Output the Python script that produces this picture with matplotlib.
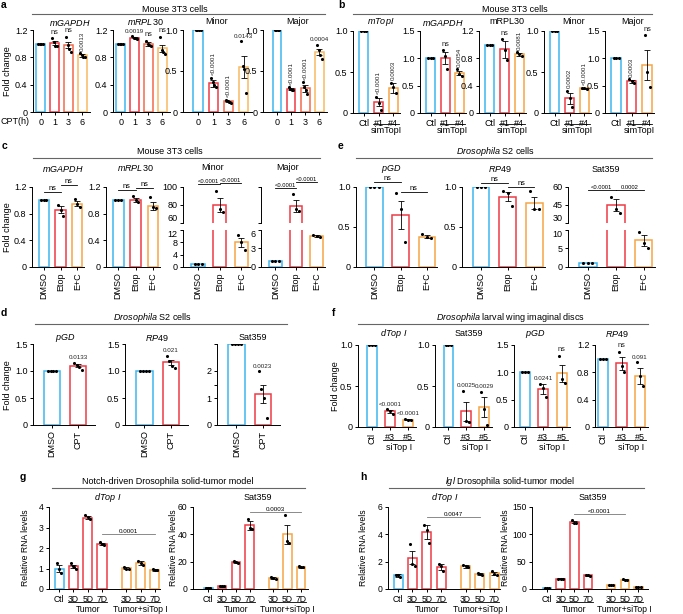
import numpy as np
import matplotlib
matplotlib.use('Agg')
import matplotlib.pyplot as plt
from matplotlib.lines import Line2D

plt.rcParams['font.family'] = ['Liberation Sans', 'DejaVu Sans']
plt.rcParams['mathtext.fontset'] = 'custom'
plt.rcParams['mathtext.it'] = 'Liberation Sans:italic'
plt.rcParams['mathtext.rm'] = 'Liberation Sans'
plt.rcParams['axes.linewidth'] = 0.7

BLUE = '#3cb6ee'
RED = '#ee3b45'
ORED = '#f26a4c'
ORANGE = '#f7a545'
LORANGE = '#f8bb62'

# ---------------- data ----------------
# a: Mouse 3T3, CPT time course
a_cats = ['0', '1', '3', '6']
a_gapdh = [1.0, 1.01, 0.98, 0.83]
a_gapdh_err = [0, 0.03, 0.05, 0.02]
a_gapdh_pts = [[1, 1, 1, 1], [1.08, 1.03, 0.97, 0.96], [1.10, 0.98, 0.92, 0.88], [0.86, 0.83, 0.81, 0.80]]
a_gapdh_ann = ['', 'ns', 'ns', '0.0013']
a_rpl30 = [1.0, 1.09, 1.0, 0.93]
a_rpl30_err = [0, 0.01, 0.03, 0.05]
a_rpl30_pts = [[1, 1, 1, 1], [1.11, 1.09, 1.08, 1.07], [1.04, 1.0, 0.98, 0.97], [1.10, 0.90, 0.88, 0.85]]
a_rpl30_ann = ['', '0.0019', 'ns', 'ns']
a_minor = [1.0, 0.35, 0.13, 0.55]
a_minor_err = [0, 0.04, 0.01, 0.13]
a_minor_pts = [[1, 1, 1, 1], [0.42, 0.37, 0.33, 0.30], [0.15, 0.14, 0.12, 0.11], [0.86, 0.56, 0.52, 0.23]]
a_minor_ann = ['', '<0.0001', '<0.0001', '0.0143']
a_major = [1.0, 0.28, 0.29, 0.73]
a_major_err = [0, 0.01, 0.04, 0.04]
a_major_pts = [[1, 1, 1, 1], [0.30, 0.28, 0.27, 0.27], [0.36, 0.30, 0.27, 0.22], [0.82, 0.76, 0.70, 0.65]]
a_major_ann = ['', '<0.0001', '<0.0001', '0.0004']

# b: Mouse 3T3, simTopI
b_cats = ['Ctl', '#1', '#4']
b_topi = [1.0, 0.13, 0.31]
b_topi_err = [0, 0.05, 0.06]
b_topi_pts = [[1, 1, 1], [0.20, 0.12, 0.04], [0.37, 0.32, 0.25]]
b_topi_ann = ['', '<0.0001', '0.0003']
b_gapdh = [1.0, 1.0, 0.73]
b_gapdh_err = [0, 0.11, 0.04]
b_gapdh_pts = [[1, 1, 1], [1.15, 1.05, 0.80], [0.80, 0.72, 0.68]]
b_gapdh_ann = ['', 'ns', '0.0054']
b_rpl30 = [1.0, 0.93, 0.86]
b_rpl30_err = [0, 0.12, 0.02]
b_rpl30_pts = [[1, 1, 1], [1.08, 0.92, 0.78], [0.89, 0.86, 0.83]]
b_rpl30_ann = ['', 'ns', '0.0081']
b_minor = [1.0, 0.18, 0.30]
b_minor_err = [0, 0.07, 0.01]
b_minor_pts = [[1, 1, 1], [0.27, 0.18, 0.07], [0.31, 0.30, 0.29]]
b_minor_ann = ['', '0.0002', '<0.0001']
b_major = [1.0, 0.58, 0.88]
b_major_err = [0, 0.03, 0.27]
b_major_pts = [[1, 1, 1], [0.62, 0.58, 0.55], [1.42, 0.75, 0.47]]
b_major_ann = ['', '0.0003', 'ns']

# c: Mouse 3T3, Etop
c_cats = ['DMSO', 'Etop', 'E+C']
c_gapdh = [1.0, 0.86, 0.95]
c_gapdh_err = [0, 0.05, 0.04]
c_gapdh_pts = [[1, 1, 1], [0.93, 0.85, 0.77], [1.02, 0.95, 0.90]]
c_rpl30 = [1.0, 1.0, 0.92]
c_rpl30_err = [0, 0.03, 0.06]
c_rpl30_pts = [[1, 1, 1], [1.06, 1.0, 0.97], [1.05, 0.90, 0.88]]
c_minor = [1.0, 80, 8]
c_minor_err = [0, 8, 1.5]
c_minor_pts = [[1, 1, 1], [95, 75, 72], [10.5, 8, 5.5]]
c_major = [1.0, 79, 5]
c_major_err = [0, 7, 0.2]
c_major_pts = [[1, 1, 1], [92, 76, 73], [5.2, 5.0, 4.9]]

# e: Drosophila S2, Etop
e_pgd = [1.0, 0.65, 0.38]
e_pgd_err = [0, 0.17, 0.02]
e_pgd_pts = [[1, 1, 1], [0.93, 0.72, 0.31], [0.41, 0.38, 0.36]]
e_rp49 = [1.0, 0.88, 0.80]
e_rp49_err = [0, 0.06, 0.08]
e_rp49_pts = [[1, 1, 1], [0.95, 0.93, 0.76], [0.95, 0.73, 0.73]]
e_sat = [1.0, 45, 7.2]
e_sat_err = [0, 5, 1.5]
e_sat_pts = [[1, 1, 1], [52, 42, 38], [9.5, 6.5, 5.0]]

# d: Drosophila S2, CPT
d_cats = ['DMSO', 'CPT']
d_pgd = [1.0, 1.10]
d_pgd_err = [0, 0.03]
d_pgd_pts = [[1, 1, 1, 1], [1.15, 1.12, 1.08, 1.02]]
d_rp49 = [1.0, 1.16]
d_rp49_err = [0, 0.05]
d_rp49_pts = [[1, 1, 1, 1], [1.28, 1.18, 1.10, 1.05]]
d_sat = [3.0, 1.15]
d_sat_err = [0, 0.35]
d_sat_pts = [[3, 3, 3, 3], [2.0, 1.35, 1.0, 0.27]]

# f: larval wing discs, siTop I
f_cats = ['Ctl', '#3', '#5']
f_topi = [1.0, 0.19, 0.09]
f_topi_err = [0, 0.02, 0.01]
f_topi_pts = [[1, 1, 1], [0.22, 0.19, 0.16], [0.10, 0.09, 0.09]]
f_topi_ann = ['', '<0.0001', '<0.0001']
f_sat = [1.0, 0.19, 0.24]
f_sat_err = [0, 0.12, 0.12]
f_sat_pts = [[1, 1, 1], [0.44, 0.07, 0.06], [0.43, 0.22, 0.03]]
f_sat_ann = ['', '0.0025', '0.0029']
f_pgd = [1.0, 0.69, 0.98]
f_pgd_err = [0, 0.09, 0.16]
f_pgd_pts = [[1, 1, 1], [0.79, 0.72, 0.55], [1.30, 0.88, 0.80]]
f_pgd_ann = ['', '0.0241', 'ns']
f_rp49 = [1.0, 0.93, 0.75]
f_rp49_err = [0, 0.10, 0.12]
f_rp49_pts = [[1, 1, 1], [1.10, 0.90, 0.80], [0.95, 0.75, 0.60]]
f_rp49_ann = ['', 'ns', '0.091']

# g / h: tumor models
t_cats = ['Ctl', '3D', '5D', '7D', '3D', '5D', '7D']
g_topi = [1.0, 1.1, 3.48, 2.2, 1.02, 1.25, 0.95]
g_topi_err = [0.18, 0.08, 0.08, 0.05, 0.04, 0.10, 0.05]
g_topi_pts = [[1.28, 1.0, 0.8], [1.25, 1.1, 1.05, 1.0], [3.6, 3.5, 3.4], [2.3, 2.2, 2.15],
              [1.08, 1.0, 0.98], [1.35, 1.25, 1.15], [1.0, 0.95, 0.92]]
g_sat = [1.0, 2.0, 19.5, 46.5, 8.0, 40.0, 16.0]
g_sat_err = [0.3, 0.2, 0.6, 3.0, 0.8, 7.0, 0.4]
g_sat_pts = [[1, 1, 1], [2, 2, 2], [20.5, 19.5, 19], [51, 45, 44],
             [9, 8, 7.5], [54, 35, 34], [16.5, 16, 15.8]]
h_topi = [1.0, 2.3, 4.15, 1.6, 1.65, 1.1, 1.15]
h_topi_err = [0.1, 0.5, 0.5, 0.2, 0.08, 0.05, 0.1]
h_topi_pts = [[1.05, 1.0, 0.9], [3.3, 1.8, 1.7], [4.7, 4.3, 3.4], [1.8, 1.7, 1.3],
              [1.75, 1.65, 1.6], [1.15, 1.1, 1.05], [1.3, 1.1, 1.0]]
h_sat = [1.0, 19, 122, 25, 7, 17, 4]
h_sat_err = [0.3, 0.5, 2, 0.5, 0.4, 0.8, 0.5]
h_sat_pts = [[1, 1, 1], [19, 19, 18.5], [126, 121, 120], [25, 25, 24.5],
             [7, 7, 6.5], [18, 17, 16], [4.5, 4, 3.5]]

# ---------------- helpers ----------------
W, H = 683, 614
fig = plt.figure(figsize=(W / 100, H / 100), dpi=100)


def px_ax(x0, y0, x1, y1):
    return fig.add_axes([x0 / W, 1 - y1 / H, (x1 - x0) / W, (y1 - y0) / H])


def ftxt(x, y, s, **kw):
    kw.setdefault('ha', 'center')
    kw.setdefault('va', 'center')
    kw.setdefault('fontsize', 6.5)
    fig.text(x / W, 1 - y / H, s, **kw)


def hline(x0, x1, y, color='#666666', lw=0.8):
    fig.add_artist(Line2D([x0 / W, x1 / W], [1 - y / H] * 2, color=color, lw=lw))


def make(rect, xs, vals, errs, pts, cols, ylim, yticks, ylabs, xlim, xlabels, rot=0, wid=0.62, fs=6.5):
    ax = px_ax(*rect)
    ax.bar(xs, vals, wid, color='white', edgecolor=cols, linewidth=1.1, zorder=1)
    for x, v, e, p in zip(xs, vals, errs, pts):
        if e > 0:
            ax.errorbar(x, v, yerr=e, fmt='none', ecolor='k', elinewidth=0.6,
                        capsize=2, capthick=0.6, zorder=2)
        off = np.linspace(-0.16, 0.16, len(p))
        ax.scatter(np.array(x) + off, p, s=5, color='k', zorder=3, linewidths=0)
    ax.set_ylim(*ylim)
    ax.set_yticks(yticks)
    ax.set_yticklabels(ylabs)
    ax.set_xlim(*xlim)
    ax.set_xticks(xs)
    ax.set_xticklabels(xlabels, rotation=rot)
    for s in ['top', 'right']:
        ax.spines[s].set_visible(False)
    ax.tick_params(length=2.5, width=0.7, pad=1.5, labelsize=fs)
    return ax


def notes(ax, xs, vals, errs, pts, texts, rots):
    lo, hi = ax.get_ylim()
    pad = (hi - lo) * 0.03
    for x, v, e, p, t, r in zip(xs, vals, errs, pts, texts, rots):
        if not t:
            continue
        top = max(v + e, max(p)) + pad
        ax.text(x, top, t, rotation=r, ha='center', va='bottom', clip_on=False,
                fontsize=5.3 if t == 'ns' else 4.5, color='#222222')


def bracket(ax, x1, x2, y, t, color='k', fs=4.5):
    ax.plot([x1, x2], [y, y], color=color, lw=0.6, clip_on=False)
    ax.text((x1 + x2) / 2, y, t, ha='center', va='bottom', clip_on=False,
            fontsize=5.3 if t == 'ns' else fs)


def group(ax, x1, x2, t, yline, ytext, ext=0.35, fs=6.5):
    tr = ax.get_xaxis_transform()
    ax.plot([x1 - ext, x2 + ext], [yline, yline], transform=tr, color='k', lw=0.6, clip_on=False)
    ax.text((x1 + x2) / 2, ytext, t, transform=tr, ha='center', va='top', fontsize=fs)


def lab(v, d=1):
    return '0' if v == 0 else f'{v:.{d}f}'


# ---------------- panel a ----------------
xa = np.arange(4)
ca = [BLUE, RED, ORED, LORANGE]
tk12 = [0, 0.4, 0.8, 1.2]
tk10 = [0, 0.5, 1.0]
tk15 = [0, 0.5, 1.0, 1.5]
ax = make((33, 30, 90, 112), xa, a_gapdh, a_gapdh_err, a_gapdh_pts, ca, (0, 1.2), tk12,
          [lab(v) for v in tk12], (-0.55, 3.55), a_cats)
notes(ax, xa, a_gapdh, a_gapdh_err, a_gapdh_pts, a_gapdh_ann, [0, 0, 0, 90])
ax = make((113, 30, 170, 112), xa, a_rpl30, a_rpl30_err, a_rpl30_pts, ca, (0, 1.2), tk12,
          [lab(v) for v in tk12], (-0.55, 3.55), a_cats)
notes(ax, xa, a_rpl30, a_rpl30_err, a_rpl30_pts, a_rpl30_ann, [0, 0, 0, 0])
ax = make((183, 30, 252, 112), xa, a_minor, a_minor_err, a_minor_pts, ca, (0, 1.0), tk10,
          [lab(v) for v in tk10], (-1.0, 3.55), a_cats)
notes(ax, xa, a_minor, a_minor_err, a_minor_pts, a_minor_ann, [0, 90, 90, 0])
ax = make((263, 30, 327, 112), xa, a_major, a_major_err, a_major_pts, ca, (0, 1.0), tk10,
          [lab(v) for v in tk10], (-1.0, 3.55), a_cats)
notes(ax, xa, a_major, a_major_err, a_major_pts, a_major_ann, [0, 90, 90, 0])
ftxt(15, 121, 'CPT(h)')
ftxt(8, 71, 'Fold change', rotation=90)
ftxt(175, 9, 'Mouse 3T3 cells')
hline(32, 325, 14)
for x, s in [(70, '$\\mathit{mGAPDH}$'), (145, '$\\mathit{mRPL30}$'), (217, 'Minor'), (298, 'Major')]:
    ftxt(x, 22, s)
ftxt(4, 5, 'a', fontweight='bold', fontsize=7.5)

# ---------------- panel b ----------------
xb = np.arange(3)
cb = [BLUE, RED, ORANGE]
b_set = [
    ((353, 31, 400, 113), b_topi, b_topi_err, b_topi_pts, b_topi_ann, [0, 90, 90], (0, 1.0), tk10),
    ((420, 31, 466, 113), b_gapdh, b_gapdh_err, b_gapdh_pts, b_gapdh_ann, [0, 0, 90], (0, 1.5), tk15),
    ((479, 31, 526, 113), b_rpl30, b_rpl30_err, b_rpl30_pts, b_rpl30_ann, [0, 0, 90], (0, 1.2), tk12),
    ((544, 31, 591, 113), b_minor, b_minor_err, b_minor_pts, b_minor_ann, [0, 90, 90], (0, 1.0), tk10),
    ((605, 31, 654, 113), b_major, b_major_err, b_major_pts, b_major_ann, [0, 90, 0], (0, 1.5), tk15),
]
for rect, v, e, p, ann, rots, yl, tk in b_set:
    ax = make(rect, xb, v, e, p, cb, yl, tk, [lab(t) for t in tk], (-0.73, 2.45), b_cats)
    notes(ax, xb, v, e, p, ann, rots)
    group(ax, 1, 2, 'simTopI', -0.135, -0.16)
ftxt(515, 9, 'Mouse 3T3 cells')
hline(353, 652, 14)
for x, s in [(381, '$\\mathit{mTopI}$'), (443, '$\\mathit{mGAPDH}$'), (507, 'mRPL30'),
             (574, 'Minor'), (633, 'Major')]:
    ftxt(x, 22, s)
ftxt(341, 5, 'b', fontweight='bold', fontsize=7.5)

# ---------------- panel c ----------------
ax = make((32, 187, 84, 267), xb, c_gapdh, c_gapdh_err, c_gapdh_pts, cb, (0, 1.2), tk12,
          [lab(v) for v in tk12], (-0.7, 2.4), c_cats, rot=90)
bracket(ax, 0, 1, 1.13, 'ns')
bracket(ax, 1, 2, 1.23, 'ns')
ax = make((106, 187, 160, 267), xb, c_rpl30, c_rpl30_err, c_rpl30_pts, cb, (0, 1.2), tk12,
          [lab(v) for v in tk12], (-0.7, 2.4), c_cats, rot=90)
bracket(ax, 0, 1, 1.155, 'ns')
bracket(ax, 1, 2, 1.18, 'ns')


def broken(x0, x1, yt, ym1, ym2, yb, v, e, p, cols, ylt, tkt, labt, ylb, tkb, labb, xlim, cats, rot):
    top = make((x0, yt, x1, ym1), xb, v, e, p, cols, ylt, tkt, labt, xlim, cats)
    top.spines['bottom'].set_visible(False)
    top.set_xticks([])
    top.get_yticklabels()[0].set_va('bottom')
    bot = make((x0, ym2, x1, yb), xb, v, e, p, cols, ylb, tkb, labb, xlim, cats, rot=rot)
    bot.get_yticklabels()[-1].set_va('top')
    return top, bot


top, bot = broken(183, 250, 187, 223, 230, 267, c_minor, c_minor_err, c_minor_pts, cb,
                  (60, 100), [60, 80, 100], ['60', '80', '100'], (0, 12), [0, 4, 8, 12],
                  ['0', '4', '8', '12'], (-0.7, 2.4), c_cats, 90)
bracket(top, 0, 1, 103, '<0.0001', fs=4.2)
bracket(top, 1, 2, 104.8, '<0.0001', fs=4.2)
top, bot = broken(261, 325, 187, 223, 230, 267, c_major, c_major_err, c_major_pts, cb,
                  (60, 100), [60, 100], ['', ''], (0, 6), [0, 3, 6],
                  ['0', '3', '6'], (-0.7, 2.4), c_cats, 90)
bracket(top, 0, 1, 98.5, '<0.0001', fs=4.2)
bracket(top, 1, 2, 106, '<0.0001', fs=4.2)
ftxt(8, 227, 'Fold change', rotation=90)
ftxt(170, 152, 'Mouse 3T3 cells')
hline(33, 320, 158)
for x, s in [(63, '$\\mathit{mGAPDH}$'), (135, '$\\mathit{mRPL30}$'), (213, 'Minor'), (288, 'Major')]:
    ftxt(x, 168, s)
ftxt(4, 146, 'c', fontweight='bold', fontsize=7.5)

# ---------------- panel e ----------------
ax = make((356, 187, 437, 267), xb, e_pgd, e_pgd_err, e_pgd_pts, cb, (0, 1.0), tk10,
          [lab(v) for v in tk10], (-0.71, 2.4), c_cats, rot=90)
bracket(ax, 0, 1, 1.066, 'ns')
bracket(ax, 1, 2, 0.94, 'ns')
ax = make((462, 187, 545, 267), xb, e_rp49, e_rp49_err, e_rp49_pts, cb, (0, 1.0), tk10,
          [lab(v) for v in tk10], (-0.71, 2.4), c_cats, rot=90)
bracket(ax, 0, 1, 1.05, 'ns')
bracket(ax, 1, 2, 1.0, 'ns')
top, bot = broken(568, 655, 187, 223, 230, 267, e_sat, e_sat_err, e_sat_pts, cb,
                  (30, 60), [30, 45, 60], ['30', '45', '60'], (0, 10), [0, 5, 10],
                  ['0', '5', '10'], (-0.71, 2.4), c_cats, 90)
bracket(top, 0, 1, 57.5, '<0.0001', fs=4.2)
bracket(top, 1, 2, 57.5, '0.0002', fs=4.2)
ftxt(495, 152, '$\\mathit{Drosophila}$ S2 cells')
hline(356, 652, 158)
for x, s in [(391, '$\\mathit{pGD}$'), (500, '$\\mathit{RP49}$'), (606, 'Sat359')]:
    ftxt(x, 169, s)
ftxt(341, 146, 'e', fontweight='bold', fontsize=7.5)

# ---------------- panel d ----------------
xd = np.arange(2)
cd = [BLUE, RED]
ax = make((33, 344, 95, 425), xd, d_pgd, d_pgd_err, d_pgd_pts, cd, (0, 1.5), tk15,
          [lab(v) for v in tk15], (-0.73, 1.65), d_cats, rot=90)
notes(ax, xd, d_pgd, d_pgd_err, d_pgd_pts, ['', '0.0133'], [0, 0])
ax = make((125, 344, 188, 425), xd, d_rp49, d_rp49_err, d_rp49_pts, cd, (0, 1.5), tk15,
          [lab(v) for v in tk15], (-0.73, 1.65), d_cats, rot=90)
notes(ax, xd, d_rp49, d_rp49_err, d_rp49_pts, ['', '0.021'], [0, 0])
ax = make((217, 344, 280, 425), xd, d_sat, d_sat_err, d_sat_pts, cd, (0, 3), [0, 1, 1.5, 2, 3],
          ['0', '1', '', '2', ''], (-0.73, 1.65), d_cats, rot=90)
notes(ax, xd, d_sat, d_sat_err, d_sat_pts, ['', '0.0023'], [0, 0])
ftxt(8, 385, 'Fold change', rotation=90)
ftxt(152, 318, '$\\mathit{Drosophila}$ S2 cells')
hline(35, 287, 324)
for x, s in [(65, '$\\mathit{pGD}$'), (157, '$\\mathit{RP49}$'), (253, 'Sat359')]:
    ftxt(x, 338, s)
ftxt(4, 313, 'd', fontweight='bold', fontsize=7.5)

# ---------------- panel f ----------------
f_set = [
    ((358, 345, 416, 427), f_topi, f_topi_err, f_topi_pts, f_topi_ann, (0, 1.0), tk10, (-0.76, 2.45)),
    ((435, 345, 492, 427), f_sat, f_sat_err, f_sat_pts, f_sat_ann, (0, 1.0), tk10, (-0.76, 2.45)),
    ((514, 345, 570, 427), f_pgd, f_pgd_err, f_pgd_pts, f_pgd_ann, (0, 1.5), tk15, (-0.6, 2.45)),
    ((595, 345, 648, 427), f_rp49, f_rp49_err, f_rp49_pts, f_rp49_ann, (0, 1.2), tk12, (-0.45, 2.45)),
]
for rect, v, e, p, ann, yl, tk, xl in f_set:
    ax = make(rect, xb, v, e, p, cb, yl, tk, [lab(t) for t in tk], xl, f_cats, wid=0.55)
    ax.get_xticklabels()[0].set_rotation(90)
    notes(ax, xb, v, e, p, ann, [0, 0, 0])
    group(ax, 1, 2, 'siTop I', -0.16, -0.19)
ftxt(336, 386, 'Fold change', rotation=90)
ftxt(510, 318, '$\\mathit{Drosophila}$ larval wing imaginal discs')
hline(358, 648, 324)
for x, s in [(394, '$\\mathit{dTop\\ I}$'), (469, 'Sat359'), (535, '$\\mathit{pGD}$'), (617, '$\\mathit{RP49}$')]:
    ftxt(x, 334, s)
ftxt(334, 313, 'f', fontweight='bold', fontsize=7.5)

# ---------------- panels g, h ----------------
xt = np.array([0, 1, 2, 3, 4.7, 5.7, 6.7])
ct = [BLUE, RED, RED, RED, ORANGE, ORANGE, ORANGE]
t_set = [
    ((49, 507, 160, 589), g_topi, g_topi_err, g_topi_pts, (0, 4), [0, 1, 2, 3, 4], (-0.7, 7.05), (3, 6, 2.68, '0.0001')),
    ((193, 507, 308, 589), g_sat, g_sat_err, g_sat_pts, (0, 60), [0, 20, 40, 60], (-1.1, 7.2), (3, 6, 56.4, '0.0003')),
    ((388, 507, 500, 589), h_topi, h_topi_err, h_topi_pts, (0, 6), [0, 2, 4, 6], (-0.7, 7.1), (2, 5, 5.28, '0.0047')),
    ((532, 507, 648, 589), h_sat, h_sat_err, h_sat_pts, (0, 150), [0, 50, 100, 150], (-1.1, 7.4), (2, 5, 137, '<0.0001')),
]
for rect, v, e, p, yl, tk, xl, br in t_set:
    ax = make(rect, xt, v, e, p, ct, yl, tk, [str(t) for t in tk], xl, t_cats, wid=0.63, fs=6.2)
    bracket(ax, xt[br[0]], xt[br[1]], br[2], br[3], color='#777777')
    group(ax, 1, 3, 'Tumor', -0.16, -0.19, fs=6.2)
    group(ax, 4.7, 6.7, 'Tumor+siTop I', -0.16, -0.19, fs=6.2)
for x in [26, 173, 363, 506]:
    ftxt(x, 548, 'Relative RNA levels', rotation=90, fontsize=6.2)
ftxt(168, 482, 'Notch-driven Drosophila solid-tumor model')
hline(52, 305, 488)
ftxt(510, 482, '$\\mathit{lgl}$ Drosophila solid-tumor model')
hline(389, 644, 488)
for x, s in [(108, '$\\mathit{dTop\\ I}$'), (258, 'Sat359'), (445, '$\\mathit{dTop\\ I}$'), (593, 'Sat359')]:
    ftxt(x, 498, s)
ftxt(23, 477, 'g', fontweight='bold', fontsize=7.5)
ftxt(363, 477, 'h', fontweight='bold', fontsize=7.5)

fig.savefig('out.png', dpi=100)
